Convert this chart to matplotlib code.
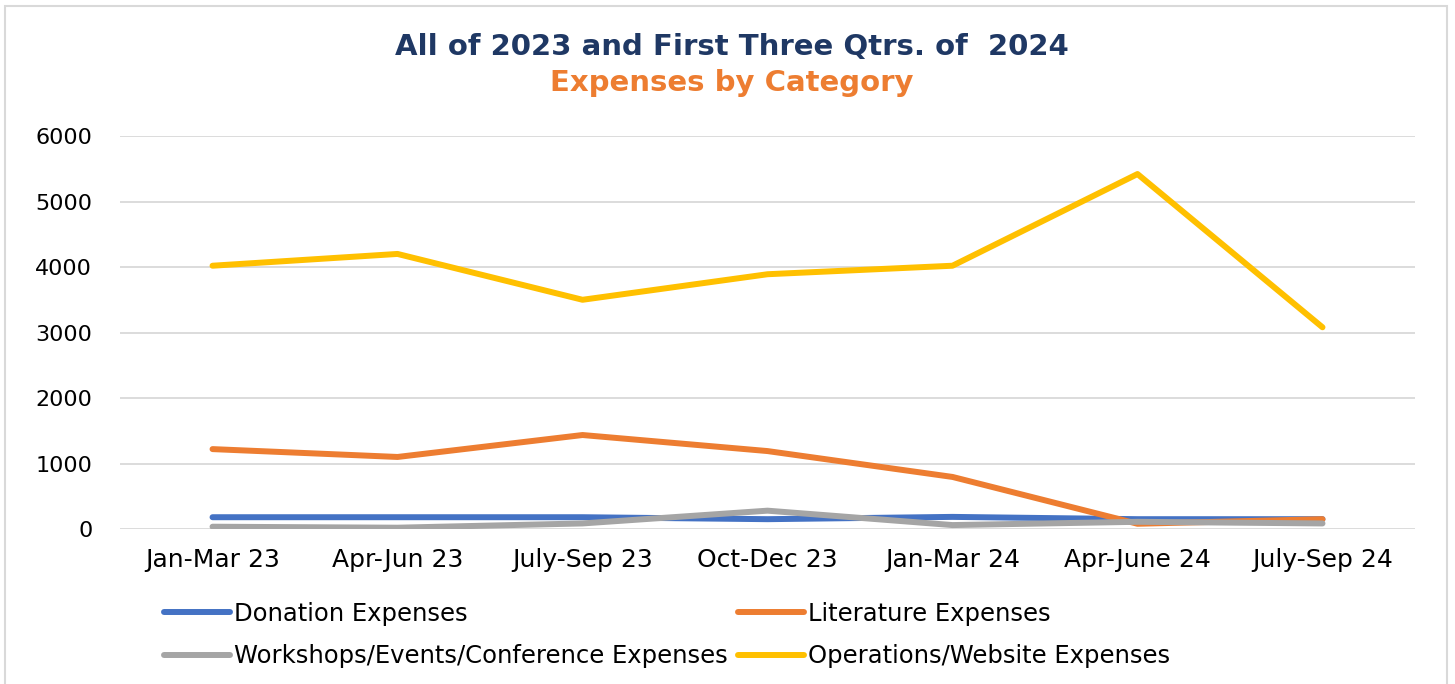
import matplotlib.pyplot as plt
from matplotlib.patches import Rectangle

#%%
# Quarterly expense data
quarters = ['Jan-Mar 23', 'Apr-Jun 23', 'July-Sep 23', 'Oct-Dec 23',
            'Jan-Mar 24', 'Apr-June 24', 'July-Sep 24']
donation = [180, 180, 180, 150, 185, 150, 150]
literature = [1220, 1100, 1435, 1190, 795, 80, 150]
workshops = [35, 20, 85, 280, 60, 110, 85]
operations = [4020, 4200, 3500, 3890, 4020, 5420, 3080]

#%%
fig = plt.figure(figsize=(14.55, 6.84), dpi=100)
ax = fig.add_axes([0.0825, 0.2266, 0.89, 0.5745])

lw = 4.3
ax.plot(quarters, donation, color='#4472C4', lw=lw, label='Donation Expenses', solid_capstyle='round')
ax.plot(quarters, literature, color='#ED7D31', lw=lw, label='Literature Expenses', solid_capstyle='round')
ax.plot(quarters, workshops, color='#A5A5A5', lw=lw, label='Workshops/Events/Conference Expenses', solid_capstyle='round')
ax.plot(quarters, operations, color='#FFC000', lw=lw, label='Operations/Website Expenses', solid_capstyle='round')

ax.set_xlim(-0.5, 6.5)
ax.set_ylim(0, 6000)
ax.set_yticks(range(0, 6001, 1000))
ax.grid(axis='y', color='#D9D9D9', lw=1.3)
ax.set_axisbelow(True)
for s in ax.spines.values():
    s.set_visible(False)
ax.tick_params(length=0, colors='black')
ax.tick_params(axis='x', pad=14, labelsize=18)
ax.tick_params(axis='y', pad=20, labelsize=16)

# titles
fig.text(0.503, 0.932, 'All of 2023 and First Three Qtrs. of  2024', ha='center', va='center',
         fontsize=21, fontweight='bold', color='#1F3864')
fig.text(0.503, 0.878, 'Expenses by Category', ha='center', va='center',
         fontsize=21, fontweight='bold', color='#ED7D31')

# legend
h, l = ax.get_legend_handles_labels()
order = [0, 2, 1, 3]
fig.legend([h[i] for i in order], [l[i] for i in order], ncol=2, loc='upper left',
           bbox_to_anchor=(0.098, 0.152), frameon=False, handlelength=2.7, handletextpad=0.15,
           columnspacing=0.45, labelspacing=0.75, fontsize=17.5)

# outer border
fig.patches.append(Rectangle((0.0035, -0.02), 0.991, 1.011, transform=fig.transFigure,
                             fill=False, edgecolor='#D9D9D9', lw=1.5))

plt.savefig('out.png', dpi=100)
